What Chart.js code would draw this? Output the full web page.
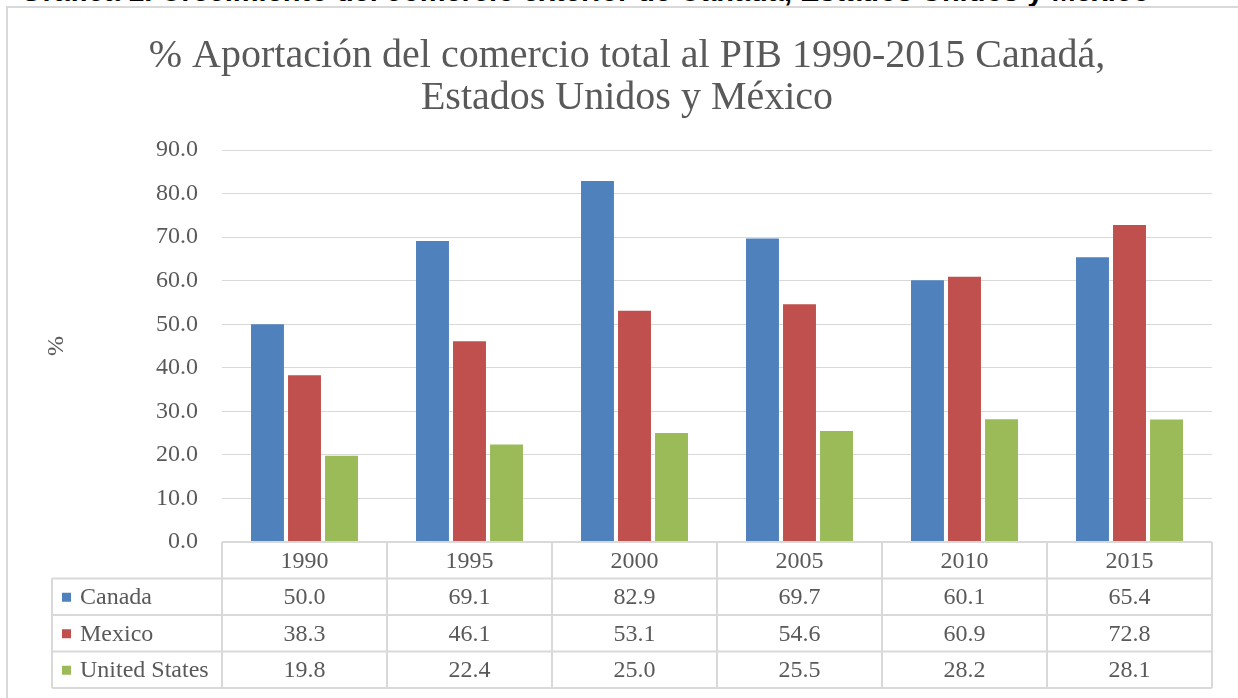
<!DOCTYPE html>
<html>
<head>
<meta charset="utf-8">
<script src="https://cdn.jsdelivr.net/npm/chart.js@4/dist/chart.umd.min.js"></script>
<style>
    html, body { margin: 0; padding: 0; background: #fff; overflow: hidden; }
    #wrap { position: relative; width: 1238px; height: 698px; overflow: hidden; }
    #caption {
        position: absolute; left: 20px; top: -25px; white-space: nowrap;
        font: bold 29px "Liberation Sans", Arial, sans-serif; color: #000;
    }
    #frame {
        position: absolute; left: 6px; top: 6px; width: 1400px; height: 800px;
        border: 2px solid #d9d9d9; background: #fff;
    }
    #chart { position: absolute; left: 0; top: 0; }
</style>
</head>
<body>
<div id="wrap">
    <div id="caption">Gráfica 1. Crecimiento del comercio exterior de Canadá, Estados Unidos y México</div>
    <div id="frame"></div>
    <canvas id="chart" width="1238" height="698"></canvas>
</div>
<script>
// ========= data =========
const years        = ["1990", "1995", "2000", "2005", "2010", "2015"];
const canadaVals   = [50.0, 69.1, 82.9, 69.7, 60.1, 65.4];
const mexicoVals   = [38.3, 46.1, 53.1, 54.6, 60.9, 72.8];
const usVals       = [19.8, 22.4, 25.0, 25.5, 28.2, 28.1];

const seriesNames  = ["Canada", "Mexico", "United States"];
const seriesColors = ["#4f81bd", "#c0504d", "#9bbb59"];

const titleLines   = ["% Aportación del comercio total al PIB 1990-2015 Canadá,", "Estados Unidos y México"];

const SERIF = '"Liberation Serif", "Times New Roman", serif';
const TEXT_COLOR = "#595959";
const LINE_COLOR = "#d9d9d9";

// ========= data table under the plot =========
const dataTablePlugin = {
    id: "dataTable",
    afterDraw(chart) {
        const ctx = chart.ctx;
        const area = chart.chartArea;
        const rowH = 36.5;
        const legendLeft = 52;
        const colW = (area.right - area.left) / years.length;
        const top = area.bottom;
        const bottom = top + rowH * 4;

        ctx.save();
        ctx.strokeStyle = LINE_COLOR;
        ctx.lineWidth = 2;

        // horizontal lines
        ctx.beginPath();
        ctx.moveTo(area.left, top);
        ctx.lineTo(area.right, top);
        for (let r = 1; r <= 4; r++) {
            const y = top + r * rowH;
            ctx.moveTo(legendLeft, y);
            ctx.lineTo(area.right, y);
        }
        // vertical lines
        for (let c = 0; c <= years.length; c++) {
            const x = area.left + c * colW;
            ctx.moveTo(x, top);
            ctx.lineTo(x, bottom);
        }
        ctx.moveTo(legendLeft, top + rowH);
        ctx.lineTo(legendLeft, bottom);
        ctx.stroke();

        ctx.font = "24px " + SERIF;
        ctx.fillStyle = TEXT_COLOR;
        ctx.textBaseline = "middle";

        // year header row
        ctx.textAlign = "center";
        years.forEach((yr, i) => {
            const x = chart.scales.x.getPixelForValue(i);
            ctx.fillText(yr, x, top + rowH / 2 + 1);
        });

        // series rows
        chart.data.datasets.forEach((ds, r) => {
            const yMid = top + (r + 1.5) * rowH + 1;
            ctx.fillStyle = ds.backgroundColor;
            ctx.fillRect(legendLeft + 10, yMid - 5, 9, 9);
            ctx.fillStyle = TEXT_COLOR;
            ctx.textAlign = "left";
            ctx.fillText(ds.label, legendLeft + 28, yMid);
            ctx.textAlign = "center";
            ds.data.forEach((v, i) => {
                const x = chart.scales.x.getPixelForValue(i);
                ctx.fillText(v.toFixed(1), x, yMid);
            });
        });
        ctx.restore();
    }
};

document.addEventListener("DOMContentLoaded", () => {
    const ctx = document.getElementById("chart");

    new Chart(ctx, {
        type: "bar",
        data: {
            labels: years,
            datasets: [
                { label: seriesNames[0], data: canadaVals, backgroundColor: seriesColors[0] },
                { label: seriesNames[1], data: mexicoVals, backgroundColor: seriesColors[1] },
                { label: seriesNames[2], data: usVals,     backgroundColor: seriesColors[2] }
            ]
        },
        options: {
            responsive: false,
            animation: false,
            devicePixelRatio: 1,
            categoryPercentage: 0.673,
            barPercentage: 0.89,
            layout: { padding: { left: 42, right: 26, top: 0, bottom: 156 } },
            plugins: {
                legend: { display: false },
                tooltip: { enabled: false },
                title: {
                    display: true,
                    text: titleLines,
                    color: TEXT_COLOR,
                    font: { family: SERIF, size: 40, weight: "normal", lineHeight: 1.05 },
                    padding: { top: 35, bottom: 31 }
                }
            },
            scales: {
                x: { display: false },
                y: {
                    min: 0,
                    max: 90,
                    afterFit: (scale) => { scale.width = 180; },
                    ticks: {
                        stepSize: 10,
                        padding: 24,
                        color: TEXT_COLOR,
                        font: { family: SERIF, size: 24 },
                        callback: (v) => v.toFixed(1)
                    },
                    grid: { color: LINE_COLOR, lineWidth: 1, drawTicks: false },
                    border: { display: false },
                    title: {
                        display: true,
                        text: "%",
                        color: TEXT_COLOR,
                        font: { family: SERIF, size: 24 },
                        padding: 0
                    }
                }
            }
        },
        plugins: [dataTablePlugin]
    });
});
</script>
</body>
</html>
